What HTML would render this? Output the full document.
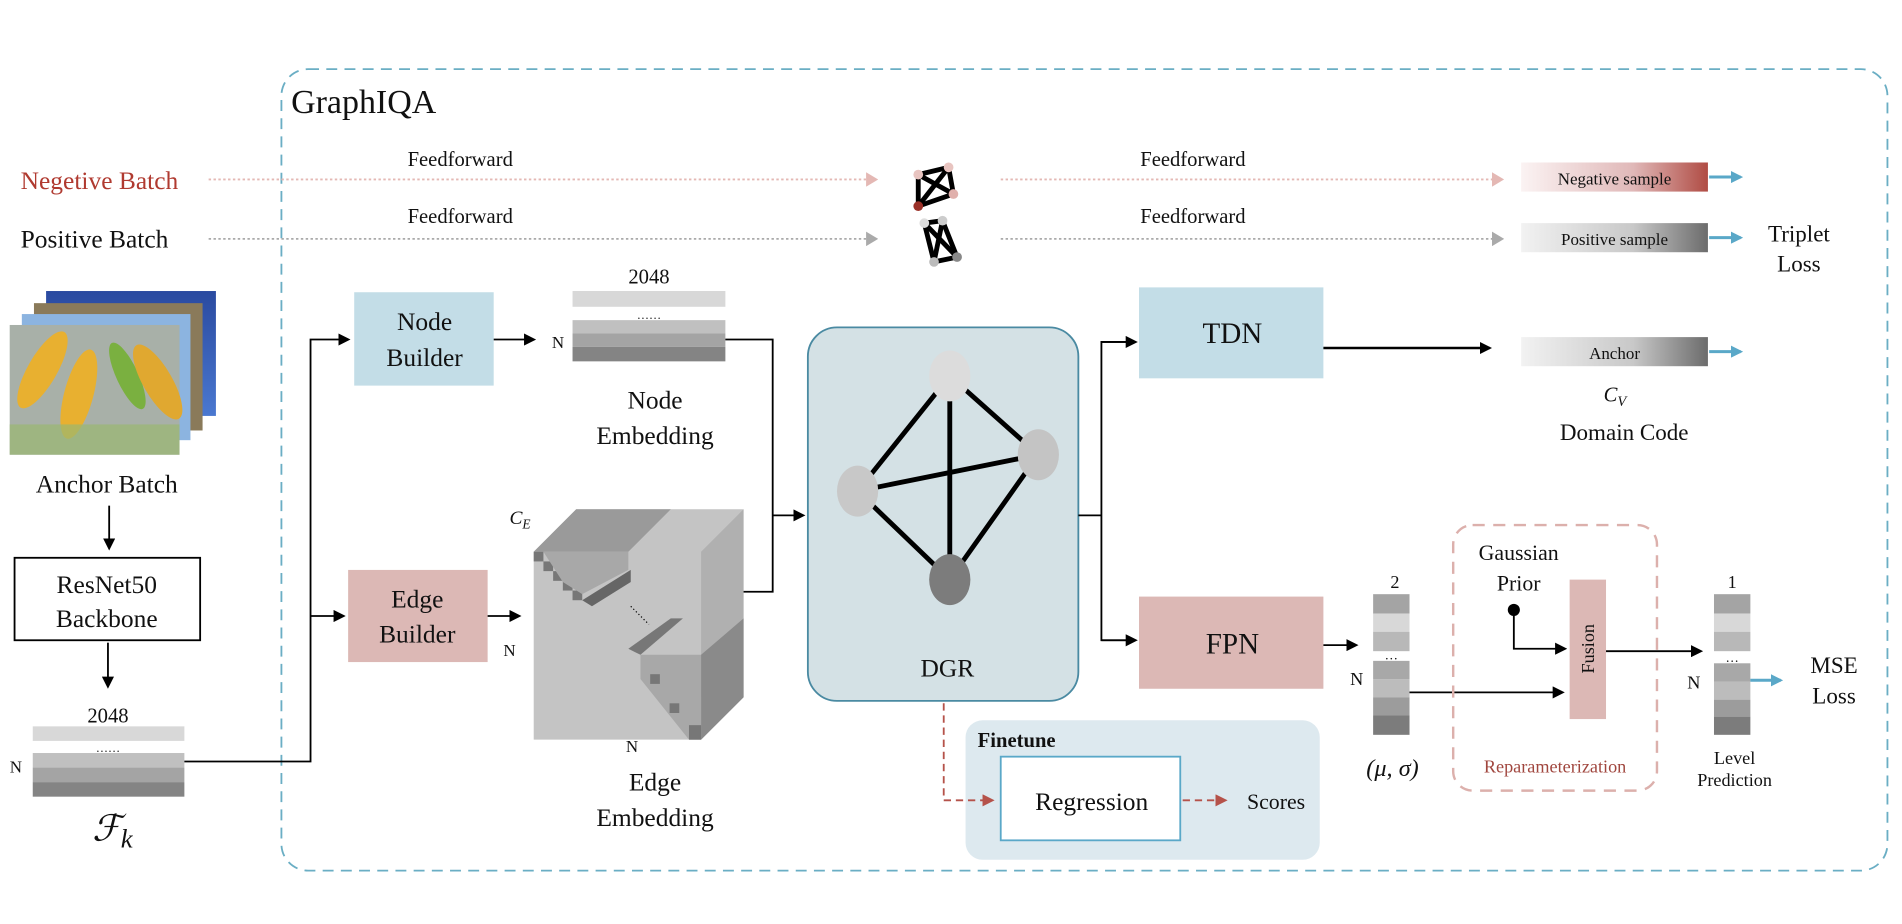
<!DOCTYPE html>
<html><head><meta charset="utf-8"><style>
html,body{margin:0;padding:0;background:#fff;}
svg{display:block;}
text{font-family:"Liberation Serif",serif;fill:#111;}
</style></head><body>
<svg width="1902" height="924" viewBox="0 0 1568 762" preserveAspectRatio="none" xmlns="http://www.w3.org/2000/svg">
<defs>
<marker id="ab" markerWidth="10" markerHeight="10" refX="8" refY="5" orient="auto" markerUnits="userSpaceOnUse"><path d="M0,0 L10,5 L0,10 z" fill="#000"/></marker>
<marker id="ablue" markerWidth="10" markerHeight="10" refX="8" refY="5" orient="auto" markerUnits="userSpaceOnUse"><path d="M0,0 L10,5 L0,10 z" fill="#5aa8c8"/></marker>
<marker id="apink" markerWidth="10" markerHeight="12" refX="8" refY="6" orient="auto" markerUnits="userSpaceOnUse"><path d="M0,0 L10,6 L0,12 z" fill="#e4b8b4"/></marker>
<marker id="agrey" markerWidth="10" markerHeight="12" refX="8" refY="6" orient="auto" markerUnits="userSpaceOnUse"><path d="M0,0 L10,6 L0,12 z" fill="#aaa"/></marker>
<marker id="ared" markerWidth="10" markerHeight="10" refX="8" refY="5" orient="auto" markerUnits="userSpaceOnUse"><path d="M0,0 L10,5 L0,10 z" fill="#b5524a"/></marker>
<linearGradient id="gneg" x1="0" x2="1"><stop offset="0" stop-color="#fbf3f3"/><stop offset="0.6" stop-color="#e0b8b8"/><stop offset="1" stop-color="#b04c44"/></linearGradient>
<linearGradient id="gpos" x1="0" x2="1"><stop offset="0" stop-color="#f2f2f2"/><stop offset="0.6" stop-color="#c8c8c8"/><stop offset="1" stop-color="#6c6c6c"/></linearGradient>
<linearGradient id="sky" x1="0" y1="0" x2="0" y2="1"><stop offset="0" stop-color="#2a4aa0"/><stop offset="1" stop-color="#4a78d0"/></linearGradient>
</defs>

<rect x="232" y="57" width="1324" height="661" rx="22" fill="none" stroke="#6aaec4" stroke-width="1.5" stroke-dasharray="9,6"/>
<text x="240" y="93" font-size="28">GraphIQA</text>

<text x="17" y="156" font-size="21" style="fill:#b03a30">Negetive Batch</text>
<text x="17" y="204" font-size="21">Positive Batch</text>
<line x1="172" y1="148" x2="722" y2="148" stroke="#e4b8b4" stroke-width="1.5" stroke-dasharray="2,2" marker-end="url(#apink)"/>
<line x1="172" y1="197" x2="722" y2="197" stroke="#aaa" stroke-width="1.5" stroke-dasharray="2,2" marker-end="url(#agrey)"/>
<line x1="825" y1="148" x2="1238" y2="148" stroke="#e4b8b4" stroke-width="1.5" stroke-dasharray="2,2" marker-end="url(#apink)"/>
<line x1="825" y1="197" x2="1238" y2="197" stroke="#aaa" stroke-width="1.5" stroke-dasharray="2,2" marker-end="url(#agrey)"/>
<text x="336" y="137" font-size="17">Feedforward</text>
<text x="336" y="184" font-size="17">Feedforward</text>
<text x="940" y="137" font-size="17">Feedforward</text>
<text x="940" y="184" font-size="17">Feedforward</text>

<g stroke="#000" stroke-width="4">
<polygon points="757,144 782,138 786,160 757,170" fill="none"/>
<line x1="757" y1="144" x2="786" y2="160"/><line x1="782" y1="138" x2="757" y2="170"/>
</g>
<circle cx="757" cy="144" r="4" fill="#e8c4c0"/><circle cx="782" cy="138" r="4" fill="#e8c4c0"/><circle cx="786" cy="160" r="4" fill="#e0b0ac"/><circle cx="757" cy="170" r="4" fill="#9a3028"/>
<g stroke="#000" stroke-width="4">
<polygon points="762,184 777,182 789,212 770,216" fill="none"/>
<line x1="762" y1="184" x2="789" y2="212"/><line x1="777" y1="182" x2="770" y2="216"/>
</g>
<circle cx="762" cy="184" r="4" fill="#ddd"/><circle cx="777" cy="182" r="4" fill="#ccc"/><circle cx="789" cy="212" r="4" fill="#888"/><circle cx="770" cy="216" r="4" fill="#bbb"/>

<rect x="1254" y="134" width="154" height="24" fill="url(#gneg)"/>
<text x="1331" y="152" font-size="14" text-anchor="middle">Negative sample</text>
<rect x="1254" y="184" width="154" height="24" fill="url(#gpos)"/>
<text x="1331" y="202" font-size="14" text-anchor="middle">Positive sample</text>
<rect x="1254" y="278" width="154" height="24" fill="url(#gpos)"/>
<text x="1331" y="296" font-size="14" text-anchor="middle">Anchor</text>
<line x1="1409" y1="146" x2="1435" y2="146" stroke="#5aa8c8" stroke-width="2.5" marker-end="url(#ablue)"/>
<line x1="1409" y1="196" x2="1435" y2="196" stroke="#5aa8c8" stroke-width="2.5" marker-end="url(#ablue)"/>
<line x1="1409" y1="290" x2="1435" y2="290" stroke="#5aa8c8" stroke-width="2.5" marker-end="url(#ablue)"/>
<text x="1483" y="199" font-size="19" text-anchor="middle">Triplet</text>
<text x="1483" y="224" font-size="19" text-anchor="middle">Loss</text>
<text x="1322" y="331" font-size="17" font-style="italic">C<tspan font-size="12" dy="4">V</tspan></text>
<text x="1339" y="363" font-size="19" text-anchor="middle">Domain Code</text>

<rect x="38" y="240" width="140" height="103" fill="url(#sky)"/>
<rect x="28" y="250" width="139" height="105" fill="#8a7a5a"/>
<rect x="18" y="259" width="139" height="104" fill="#8cb4e0"/>
<rect x="8" y="268" width="140" height="107" fill="#a8b0a8"/>
<ellipse cx="35" cy="305" rx="12" ry="36" fill="#e8b030" transform="rotate(30 35 305)"/>
<ellipse cx="65" cy="325" rx="12" ry="38" fill="#e8b030" transform="rotate(15 65 325)"/>
<ellipse cx="105" cy="310" rx="9" ry="30" fill="#7ab040" transform="rotate(-25 105 310)"/>
<ellipse cx="130" cy="315" rx="12" ry="35" fill="#e0a830" transform="rotate(-30 130 315)"/>
<rect x="8" y="350" width="140" height="25" fill="#9ab870" opacity="0.7"/>
<text x="88" y="406" font-size="21" text-anchor="middle">Anchor Batch</text>
<line x1="90" y1="417" x2="90" y2="452" stroke="#000" stroke-width="1.5" marker-end="url(#ab)"/>
<rect x="12" y="460" width="153" height="68" fill="#fff" stroke="#000" stroke-width="1.5"/>
<text x="88" y="489" font-size="21" text-anchor="middle">ResNet50</text>
<text x="88" y="517" font-size="21" text-anchor="middle">Backbone</text>
<line x1="89" y1="530" x2="89" y2="566" stroke="#000" stroke-width="1.5" marker-end="url(#ab)"/>
<text x="89" y="596" font-size="17" text-anchor="middle">2048</text>
<rect x="27" y="599" width="125" height="12" fill="#d8d8d8"/>
<text x="89" y="620" font-size="10" text-anchor="middle">……</text>
<rect x="27" y="621" width="125" height="12" fill="#c0c0c0"/>
<rect x="27" y="633" width="125" height="12" fill="#a4a4a4"/>
<rect x="27" y="645" width="125" height="12" fill="#848484"/>
<text x="8" y="637" font-size="14">N</text>
<text x="76" y="693" font-size="30" font-style="italic" font-family="Liberation Serif">ℱ<tspan font-size="22" dy="6">k</tspan></text>

<polyline points="152,628 256,628 256,280 287,280" fill="none" stroke="#000" stroke-width="1.5" marker-end="url(#ab)"/>
<line x1="256" y1="508" x2="283" y2="508" stroke="#000" stroke-width="1.5" marker-end="url(#ab)"/>

<rect x="292" y="241" width="115" height="77" fill="#c3dde7"/>
<text x="350" y="272" font-size="21" text-anchor="middle">Node</text>
<text x="350" y="302" font-size="21" text-anchor="middle">Builder</text>
<line x1="407" y1="280" x2="440" y2="280" stroke="#000" stroke-width="1.5" marker-end="url(#ab)"/>
<text x="535" y="234" font-size="17" text-anchor="middle">2048</text>
<rect x="472" y="240" width="126" height="13" fill="#d8d8d8"/>
<text x="535" y="263" font-size="10" text-anchor="middle">……</text>
<rect x="472" y="264" width="126" height="11" fill="#c0c0c0"/>
<rect x="472" y="275" width="126" height="11" fill="#a4a4a4"/>
<rect x="472" y="286" width="126" height="12" fill="#848484"/>
<text x="455" y="287" font-size="14">N</text>
<text x="540" y="337" font-size="21" text-anchor="middle">Node</text>
<text x="540" y="366" font-size="21" text-anchor="middle">Embedding</text>

<rect x="287" y="470" width="115" height="76" fill="#dcb8b5"/>
<text x="344" y="501" font-size="21" text-anchor="middle">Edge</text>
<text x="344" y="530" font-size="21" text-anchor="middle">Builder</text>
<line x1="402" y1="508" x2="428" y2="508" stroke="#000" stroke-width="1.5" marker-end="url(#ab)"/>
<text x="415" y="541" font-size="14">N</text>

<polygon points="440,455 475,420 613,420 613,575 578,610 440,610" fill="#c4c4c4"/>
<polygon points="578,455 613,420 613,575 578,610" fill="#b0b0b0"/>
<polygon points="440,455 475,420 553,420 518,455" fill="#9a9a9a"/>
<g fill="#777">
<rect x="440" y="455" width="8" height="8"/><rect x="448" y="463" width="8" height="8"/><rect x="456" y="471" width="8" height="8"/><rect x="464" y="479" width="8" height="8"/><rect x="472" y="487" width="8" height="8"/>
</g>
<polygon points="448,455 518,455 518,470 480,490 464,480" fill="#a8a8a8"/>
<polygon points="480,495 520,470 520,480 488,500" fill="#666"/>
<line x1="520" y1="500" x2="535" y2="515" stroke="#000" stroke-dasharray="1,2"/>
<polygon points="518,535 553,510 563,510 528,540" fill="#777"/>
<polygon points="528,540 578,540 578,610 568,610 528,560" fill="#a8a8a8"/>
<polygon points="578,540 613,510 613,575 578,610" fill="#8a8a8a"/>
<g fill="#777"><rect x="536" y="556" width="8" height="8"/><rect x="552" y="580" width="8" height="8"/><rect x="568" y="598" width="10" height="12"/></g>
<text x="420" y="432" font-size="16" font-style="italic">C<tspan font-size="11" dy="4">E</tspan></text>
<text x="521" y="620" font-size="14" text-anchor="middle">N</text>
<text x="540" y="652" font-size="21" text-anchor="middle">Edge</text>
<text x="540" y="681" font-size="21" text-anchor="middle">Embedding</text>

<polyline points="598,280 637,280 637,488 613,488" fill="none" stroke="#000" stroke-width="1.5"/>
<line x1="637" y1="425" x2="662" y2="425" stroke="#000" stroke-width="1.5" marker-end="url(#ab)"/>

<rect x="666" y="270" width="223" height="308" rx="24" fill="#d4e1e5" stroke="#4a8aa2" stroke-width="1.5"/>
<g stroke="#000" stroke-width="4">
<line x1="783" y1="310" x2="707" y2="405"/><line x1="783" y1="310" x2="856" y2="375"/><line x1="783" y1="310" x2="783" y2="478"/>
<line x1="707" y1="405" x2="856" y2="375"/><line x1="707" y1="405" x2="783" y2="478"/><line x1="856" y1="375" x2="783" y2="478"/>
</g>
<ellipse cx="783" cy="310" rx="17" ry="21" fill="#dcdcdc"/>
<ellipse cx="707" cy="405" rx="17" ry="21" fill="#c8c8c8"/>
<ellipse cx="856" cy="375" rx="17" ry="21" fill="#c4c4c4"/>
<ellipse cx="783" cy="478" rx="17" ry="21" fill="#7c7c7c"/>
<text x="781" y="558" font-size="21" text-anchor="middle">DGR</text>

<polyline points="889,425 908,425" fill="none" stroke="#000" stroke-width="1.5"/>
<polyline points="936,282 908,282 908,528 936,528" fill="none" stroke="#000" stroke-width="1.5"/>
<line x1="908" y1="282" x2="936" y2="282" stroke="#000" stroke-width="1.5" marker-end="url(#ab)"/>
<line x1="908" y1="528" x2="936" y2="528" stroke="#000" stroke-width="1.5" marker-end="url(#ab)"/>

<rect x="939" y="237" width="152" height="75" fill="#c3dde7"/>
<text x="1016" y="283" font-size="24" text-anchor="middle">TDN</text>
<line x1="1091" y1="287" x2="1228" y2="287" stroke="#000" stroke-width="2" marker-end="url(#ab)"/>
<rect x="939" y="492" width="152" height="76" fill="#dcb8b5"/>
<text x="1016" y="539" font-size="24" text-anchor="middle">FPN</text>
<line x1="1091" y1="532" x2="1118" y2="532" stroke="#000" stroke-width="1.5" marker-end="url(#ab)"/>

<text x="1150" y="485" font-size="15" text-anchor="middle">2</text>
<rect x="1132" y="490" width="30" height="16" fill="#a4a4a4"/><rect x="1132" y="506" width="30" height="15" fill="#d8d8d8"/><rect x="1132" y="521" width="30" height="16" fill="#b8b8b8"/>
<text x="1147" y="544" font-size="11" text-anchor="middle">…</text>
<rect x="1132" y="545" width="30" height="15" fill="#a8a8a8"/><rect x="1132" y="560" width="30" height="15" fill="#bcbcbc"/><rect x="1132" y="575" width="30" height="15" fill="#9c9c9c"/><rect x="1132" y="590" width="30" height="16" fill="#7c7c7c"/>
<text x="1113" y="565" font-size="15">N</text>
<text x="1148" y="640" font-size="20" text-anchor="middle" font-style="italic">(μ, σ)</text>
<line x1="1162" y1="571" x2="1288" y2="571" stroke="#000" stroke-width="1.5" marker-end="url(#ab)"/>

<rect x="1198" y="433" width="168" height="219" rx="16" fill="none" stroke="#dcb0ac" stroke-width="2" stroke-dasharray="10,7"/>
<text x="1252" y="462" font-size="18" text-anchor="middle">Gaussian</text>
<text x="1252" y="487" font-size="18" text-anchor="middle">Prior</text>
<circle cx="1248" cy="503" r="5" fill="#000"/>
<polyline points="1248,503 1248,535 1290,535" fill="none" stroke="#000" stroke-width="1.5" marker-end="url(#ab)"/>
<rect x="1294" y="478" width="30" height="115" fill="#dcb8b5"/>
<text x="0" y="0" font-size="15" text-anchor="middle" transform="translate(1314,535) rotate(-90)">Fusion</text>
<line x1="1324" y1="537" x2="1402" y2="537" stroke="#000" stroke-width="1.5" marker-end="url(#ab)"/>
<text x="1282" y="637" font-size="15" text-anchor="middle" style="fill:#a0463e">Reparameterization</text>

<text x="1428" y="485" font-size="15" text-anchor="middle">1</text>
<rect x="1413" y="490" width="30" height="16" fill="#a4a4a4"/><rect x="1413" y="506" width="30" height="15" fill="#d8d8d8"/><rect x="1413" y="521" width="30" height="16" fill="#b8b8b8"/>
<text x="1428" y="546" font-size="11" text-anchor="middle">…</text>
<rect x="1413" y="547" width="30" height="15" fill="#a8a8a8"/><rect x="1413" y="562" width="30" height="15" fill="#bcbcbc"/><rect x="1413" y="577" width="30" height="14" fill="#9c9c9c"/><rect x="1413" y="591" width="30" height="15" fill="#7c7c7c"/>
<text x="1391" y="568" font-size="15">N</text>
<line x1="1443" y1="561" x2="1468" y2="561" stroke="#5aa8c8" stroke-width="2.5" marker-end="url(#ablue)"/>
<text x="1512" y="555" font-size="19" text-anchor="middle">MSE</text>
<text x="1512" y="580" font-size="19" text-anchor="middle">Loss</text>
<text x="1430" y="630" font-size="15" text-anchor="middle">Level</text>
<text x="1430" y="648" font-size="15" text-anchor="middle">Prediction</text>

<rect x="796" y="594" width="292" height="115" rx="14" fill="#dde9ef"/>
<text x="806" y="616" font-size="17" font-weight="bold">Finetune</text>
<rect x="825" y="624" width="148" height="69" fill="#fff" stroke="#5aa8c8" stroke-width="1.5"/>
<text x="900" y="668" font-size="21" text-anchor="middle">Regression</text>
<polyline points="778,580 778,660 818,660" fill="none" stroke="#b5524a" stroke-width="1.5" stroke-dasharray="6,4" marker-end="url(#ared)"/>
<line x1="975" y1="660" x2="1010" y2="660" stroke="#b5524a" stroke-width="1.5" stroke-dasharray="6,4" marker-end="url(#ared)"/>
<text x="1052" y="667" font-size="18" text-anchor="middle">Scores</text>
</svg>
</body></html>
